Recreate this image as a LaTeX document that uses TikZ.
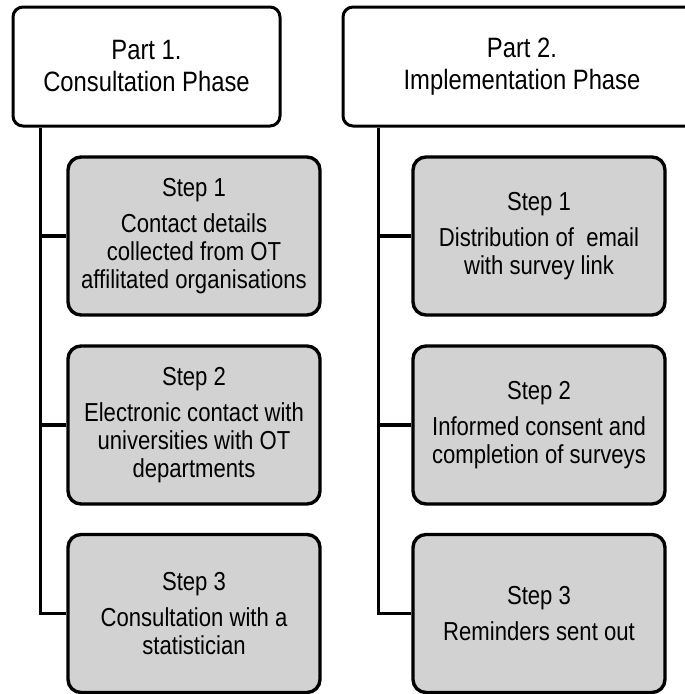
\documentclass[tikz,border=0pt]{standalone}
\usepackage{fontspec}
\setmainfont{Liberation Sans}[FakeStretch=0.85]
\begin{document}
\begin{tikzpicture}[x=1pt, y=-1pt,
    part/.style={draw, line width=3pt, rounded corners=10pt, fill=white, align=center,
        minimum height=119pt, inner sep=0pt, font=\fontsize{28}{32}\selectfont},
    stepbox/.style={draw, line width=3.4pt, rounded corners=13pt, fill=gray!35,
        minimum width=252pt, minimum height=158pt, align=center, inner sep=0pt,
        font=\fontsize{26}{28}\selectfont},
    link/.style={line width=3.6pt}]
\useasboundingbox (0,0) rectangle (685,694);
\clip (0,0) rectangle (685,694);
% the two phases
\node[part, minimum width=267pt] (p1) at (146.5,66.5) {Part 1.\\Consultation Phase};
\node[part, minimum width=358pt] (p2) at (522,66.5) {Part 2.\\Implementation Phase};
% steps of part 1
\node[stepbox] (a1) at (194,236) {Step 1\\[8pt]Contact details\\collected from OT\\affilitated organisations};
\node[stepbox] (a2) at (194,425) {Step 2\\[8pt]Electronic contact with\\universities with OT\\departments};
\node[stepbox] (a3) at (194,613.5) {Step 3\\[8pt]Consultation with a\\statistician};
% steps of part 2
\node[stepbox] (b1) at (539,236) {Step 1\\[8pt]Distribution of \ email\\with survey link};
\node[stepbox] (b2) at (539,425) {Step 2\\[8pt]Informed consent and\\completion of surveys};
\node[stepbox] (b3) at (539,613.5) {Step 3\\[8pt]Reminders sent out};
% trunks
\coordinate (ta) at ([xshift=29pt]p1.south west);
\coordinate (tb) at ([xshift=37pt]p2.south west);
\draw[link] (ta) |- (a3.west);
\draw[link] (ta |- a1.west) -- (a1.west);
\draw[link] (ta |- a2.west) -- (a2.west);
\draw[link] (tb) |- (b3.west);
\draw[link] (tb |- b1.west) -- (b1.west);
\draw[link] (tb |- b2.west) -- (b2.west);
\end{tikzpicture}
\end{document}
